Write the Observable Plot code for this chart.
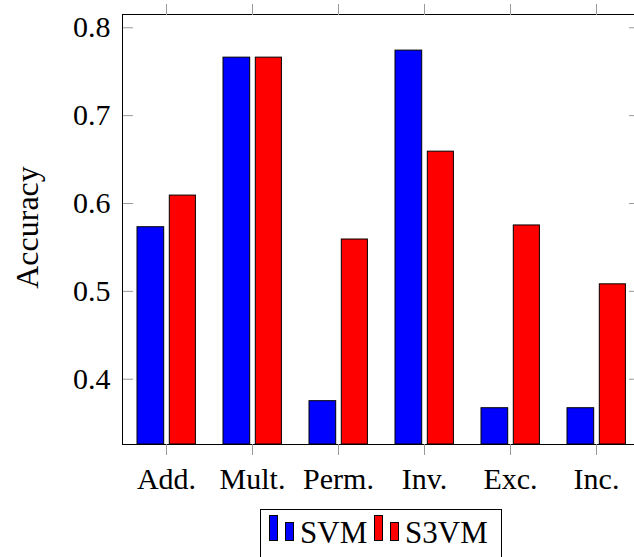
<!DOCTYPE html>
<html>
<head>
<meta charset="utf-8">
<script src="https://cdn.jsdelivr.net/npm/d3@7"></script>
<script src="https://cdn.jsdelivr.net/npm/@observablehq/plot@0.6"></script>
<style>
  html, body { margin: 0; padding: 0; background: white; overflow: hidden; }
  #wrap { position: relative; width: 634px; height: 557px; }
  #legend { position: absolute; left: 260px; top: 509px; width: 242px; height: 60px;
            border: 1px solid black; box-sizing: border-box; font-family: "Liberation Serif", serif;
            font-size: 31px; }
  .item { position: absolute; top: 0; height: 50px; }
  .icon { position: absolute; border: 1px solid black; box-sizing: border-box; }
  .lab { position: absolute; top: 6px; line-height: 34px; }
</style>
</head>
<body>
<div id="wrap"><div id="chart"></div><div id="legend"></div></div>
<script>
const categories = ["Add.", "Mult.", "Perm.", "Inv.", "Exc.", "Inc."];
const svm  = [0.573, 0.766, 0.375, 0.774, 0.367, 0.367];
const s3vm = [0.609, 0.766, 0.559, 0.659, 0.575, 0.508];
const seriesNames = ["SVM", "S3VM"];
const seriesColors = ["#0000ff", "#ff0000"];
const yTicks = [0.4, 0.5, 0.6, 0.7, 0.8];
const yDomain = [0.3257, 0.8151];

const frameW = 518;
const plot = Plot.plot({
  width: 634, height: 505,
  marginLeft: 122, marginRight: -6, marginTop: 14, marginBottom: 61,
  style: { fontFamily: "Liberation Serif, serif", fontSize: "30px", overflow: "hidden", background: "white" },
  x: { domain: categories, padding: 0, axis: null },
  y: { domain: yDomain, axis: null },
  marks: [
    Plot.barY(categories, { x: d => d, y1: yDomain[0], y2: (d, i) => svm[i], fill: seriesColors[0],
      stroke: "black", strokeWidth: 1, insetLeft: 14, insetRight: 45.3 }),
    Plot.barY(categories, { x: d => d, y1: yDomain[0], y2: (d, i) => s3vm[i], fill: seriesColors[1],
      stroke: "black", strokeWidth: 1, insetLeft: 46.3, insetRight: 13.6 }),
    Plot.ruleY(yTicks, { y: d => d, insetRight: frameW - 11, stroke: "#999" }),
    Plot.ruleY(yTicks, { y: d => d, insetLeft: frameW - 11, stroke: "#999" }),
    Plot.frame({ stroke: "black", strokeWidth: 1 }),
    Plot.axisX({ anchor: "bottom", tickSize: 11, tickPadding: 12, stroke: "#999", fill: "black", label: null }),
    Plot.axisX({ anchor: "top", tickSize: 11, stroke: "#999", tickFormat: () => "", label: null }),
    Plot.axisY({ anchor: "left", ticks: yTicks, tickSize: 0, tickPadding: 12, tickFormat: d3.format(".1f"), fill: "black", label: null }),
    Plot.text(["Accuracy"], { frameAnchor: "left", textAnchor: "middle", lineAnchor: "middle", rotate: -90, dx: -95, dy: -2, fill: "black", fontSize: 32 })
  ]
});
document.getElementById("chart").appendChild(plot);

// legend built from series arrays
const legend = document.getElementById("legend");
const itemLeft = [8, 113];
seriesNames.forEach((name, i) => {
  const item = document.createElement("div");
  item.className = "item";
  item.style.left = itemLeft[i] + "px";
  const b1 = document.createElement("div");
  b1.className = "icon";
  Object.assign(b1.style, { left: "0px", top: "5px", width: "9px", height: "26px", background: seriesColors[i] });
  const b2 = document.createElement("div");
  b2.className = "icon";
  Object.assign(b2.style, { left: "16px", top: "12px", width: "9px", height: "19px", background: seriesColors[i] });
  const lab = document.createElement("div");
  lab.className = "lab";
  lab.style.left = "31px";
  lab.textContent = name;
  item.append(b1, b2, lab);
  legend.appendChild(item);
});
</script>
</body>
</html>
